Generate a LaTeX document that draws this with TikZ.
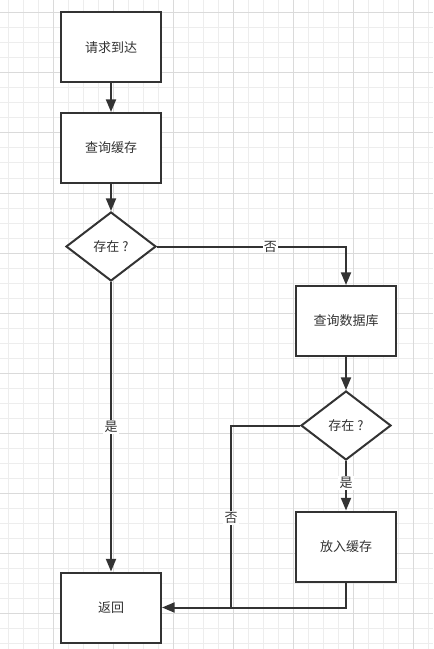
\documentclass[tikz,border=0pt]{standalone}
\usepackage{fontspec}
\newfontfamily\cjk{Noto Sans CJK SC}
\usetikzlibrary{arrows.meta, shapes.geometric, positioning}

\definecolor{ink}{HTML}{333333}
\definecolor{gridminor}{HTML}{EDEDED}
\definecolor{gridmajor}{HTML}{DADADA}

\begin{document}
\begin{tikzpicture}[x=0.75pt, y=-0.75pt, >={Triangle[length=9.5pt, width=7.5pt]},
  font=\cjk\fontsize{9.75pt}{12pt}\selectfont, text=ink,
  proc/.style={draw=ink, line width=1.5pt, fill=white, minimum width=75pt, minimum height=52.5pt},
  cond/.style={diamond, draw=ink, line width=1.5pt, fill=white, minimum width=67.5pt, minimum height=51.75pt, inner sep=0pt},
  flow/.style={draw=ink, line width=1.5pt},
  lbl/.style={fill=white, inner sep=1pt}]

  \useasboundingbox[fill=white] (0,0) rectangle (433,649);

  % grid
  \foreach \x in {8,23,...,428} \draw[gridminor, line width=0.75pt] (\x,0) -- (\x,649);
  \foreach \y in {13,28,...,643} \draw[gridminor, line width=0.75pt] (0,\y) -- (433,\y);
  \foreach \x in {53,113,...,413} \draw[gridmajor, line width=0.75pt] (\x,0) -- (\x,649);
  \foreach \y in {13,73,...,613} \draw[gridmajor, line width=0.75pt] (0,\y) -- (433,\y);

  \node[proc] (req) at (111,47.5) {请求到达};
  \node[proc] (cache) at (111,148) {查询缓存};
  \node[cond] (hit) at (111,246.5) {存在 ?};
  \node[proc] (db) at (346,321) {查询数据库};
  \node[cond] (found) at (346,425.5) {存在 ?};
  \node[proc] (fill) at (346,546.5) {放入缓存};
  \node[proc] (ret) at (111,607.5) {返回};

  \coordinate (join) at (231,607.5);

  \draw[flow, ->] (req) -- (cache);
  \draw[flow, ->] (cache) -- (hit);
  \draw[flow, ->] (hit.east) -| node[lbl, pos=0.3] {否} (db.north);
  \draw[flow, ->] (hit.south) -- node[lbl] {是} (ret.north);
  \draw[flow, ->] (db) -- (found);
  \draw[flow, ->] (found.south) -- node[lbl, pos=0.45] {是} (fill.north);
  \draw[flow, ->] (fill.south) |- (ret.east);
  \draw[flow] (found.west) -| node[lbl, pos=0.754] {否} (join);

\end{tikzpicture}
\end{document}
